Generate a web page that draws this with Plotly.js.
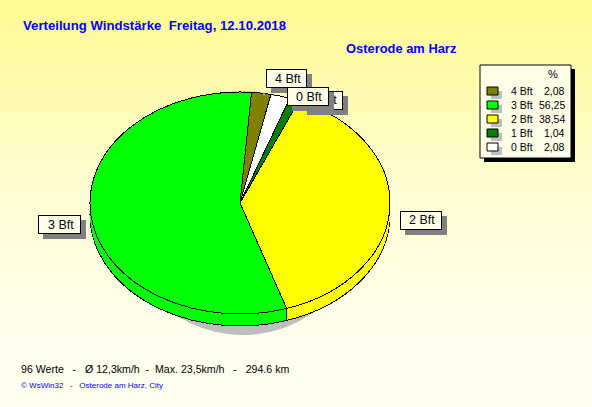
<!DOCTYPE html>
<html><head><meta charset="utf-8">
<script src="https://cdn.plot.ly/plotly-3.0.1.min.js"></script>
<style>
html,body{margin:0;padding:0;background:#fffff0}
#chart{width:592px;height:407px;background:linear-gradient(to bottom,#FFFB92 0%,#FFFDD0 45%,#FFFFF0 85%,#FFFFF0 100%)}
</style></head><body><div id="chart"></div>
<script>
const categories = ['4 Bft','3 Bft','2 Bft','1 Bft','0 Bft'];
const percent = [2.08,56.25,38.54,1.04,2.08];
const sliceColors = ['#808000','#00FF00','#FFFF00','#008000','#FFFFFF'];
const titleText = 'Verteilung Windstärke\u00A0\u00A0Freitag, 12.10.2018';
const stationText = 'Osterode am Harz';
const statsText = '96 Werte\u00A0\u00A0\u00A0-\u00A0\u00A0\u00A0Ø 12,3km/h\u00A0\u00A0-\u00A0\u00A0Max. 23,5km/h\u00A0\u00A0\u00A0-\u00A0\u00A0\u00A0294.6 km';
const creditText = '© WsWin32\u00A0\u00A0\u00A0-\u00A0\u00A0\u00A0Osterode am Harz, City';

const W=592,H=407;
const FONT='"Liberation Sans", Arial, sans-serif';
const cx=240,cy=203,rx=150,ry=111,depth=12,rotation=4.4;
const dom=(x,y,r)=>({x:[(x-r)/W,(x+r)/W],y:[1-(y+r)/H,1-(y-r)/H]});
const px=x=>x/W, py=y=>1-y/H;
const pieBase={type:'pie',values:percent,labels:categories,sort:false,direction:'counterclockwise',rotation:rotation,
  textinfo:'none',hoverinfo:'skip',showlegend:false};

const traces=[];
traces.push({...pieBase,domain:dom(243,213,122),marker:{colors:categories.map(()=>'#BEBEBE'),line:{width:0}}});
for(let i=depth;i>=0;i--){
  const stroked=(i===depth||i===0);
  traces.push({...pieBase,domain:dom(cx,cy,rx),marker:{colors:sliceColors,line:{color:'#000',width:stroked?1:0}}});
}

const shapes=[],ann=[];
function text(x,y,t,size,color,opt={}){
  ann.push({xref:'paper',yref:'paper',x:px(x),y:py(y),text:t,showarrow:false,
    xanchor:opt.anchor||'left',yanchor:'middle',borderpad:0,
    font:{family:FONT,size:size,color:color,weight:opt.bold?'bold':'normal'}});
}
function box(x0,y0,x1,y1,fill,line){
  ann.push({xref:'paper',yref:'paper',x:px(x0),y:py(y0),xanchor:'left',yanchor:'top',
    width:x1-x0-(line?2:0),height:y1-y0-(line?2:0),text:' ',showarrow:false,borderpad:0,
    bgcolor:fill,bordercolor:line||fill,borderwidth:line?1:0,font:{size:8}});
}
function rect(x0,y0,x1,y1,fill,line){
  shapes.push({type:'rect',xref:'paper',yref:'paper',x0:px(x0),x1:px(x1),y0:py(y0),y1:py(y1),
    fillcolor:fill,line:{color:line||fill,width:line?1:0},layer:'above'});
}
function seg(x0,y0,x1,y1,color){
  shapes.push({type:'line',xref:'paper',yref:'paper',x0:px(x0),x1:px(x1),y0:py(y0),y1:py(y1),
    line:{color:color,width:1},layer:'above'});
}

// side edge where the 3 Bft and 2 Bft slices meet, from the values
const edgeAngle=(rotation-percent[1]/100*360)*Math.PI/180;
const ex=cx+rx*Math.sin(edgeAngle), ey=cy-ry*Math.cos(edgeAngle);
seg(ex,ey,ex,ey+depth,'#000');

// leader stubs
seg(81,215.5,90,215.5,'#FFF');
seg(390,211.5,400,211.5,'#FFF');
seg(264,88,264,95,'#FFF');

// titles
text(21.5,26,titleText,13.2,'#0000FF',{bold:true});
text(344.5,49,stationText,12.9,'#0000FF',{bold:true});
text(19.5,369,statsText,10.6,'#000');
text(20,385,creditText,8,'#0000FF');

// labels: order matters for overlap
const labelBoxes={'4 Bft':[266,69,307,88],'1 Bft':[302,91,343,110],'0 Bft':[287,87,329,106],'3 Bft':[38,215,81,234],'2 Bft':[400,211,442,230]};
['3 Bft','2 Bft','4 Bft','1 Bft','0 Bft'].forEach(c=>{
  const b=labelBoxes[c];
  box(b[0]+5,b[1]+5,b[2]+5,b[3]+5,'#808080');
  box(b[0],b[1],b[2],b[3],'#FFFFE8','#000');
  text((b[0]+b[2])/2+1,(b[1]+b[3])/2,c,12.5,'#000',{anchor:'center'});
});

// legend
rect(484,69,575,162,'#000');
rect(480,65,571,158,'#FFFFE8','#000');
text(553,74,'%',11,'#000',{anchor:'center'});
categories.forEach((c,i)=>{
  const y=91+i*14;
  rect(491,y,502,y+8,'#BEBEBE');
  rect(487,y-4,498,y+4,sliceColors[i],'#000');
  text(510,y,c,10.5,'#000');
  text(566,y,percent[i].toFixed(2).replace('.',','),10.5,'#000',{anchor:'right'});
});

const layout={width:W,height:H,margin:{l:0,r:0,t:0,b:0},paper_bgcolor:'rgba(0,0,0,0)',plot_bgcolor:'rgba(0,0,0,0)',
  showlegend:false,shapes:shapes,annotations:ann,font:{family:FONT}};

Plotly.newPlot('chart',traces,layout,{staticPlot:true,displayModeBar:false}).then(gd=>{
  const groups=gd.querySelectorAll('.pielayer .trace');
  const k=ry/rx;
  groups.forEach((g,idx)=>{
    if(idx===0)return;
    const off=depth-(idx-1);
    g.setAttribute('transform',`translate(0,${cy+off}) scale(1,${k}) translate(0,${-cy})`);
    g.querySelectorAll('path').forEach(p=>{
      p.style.vectorEffect='non-scaling-stroke';
      p.style.shapeRendering='crispEdges';
    });
  });
});
</script></body></html>
